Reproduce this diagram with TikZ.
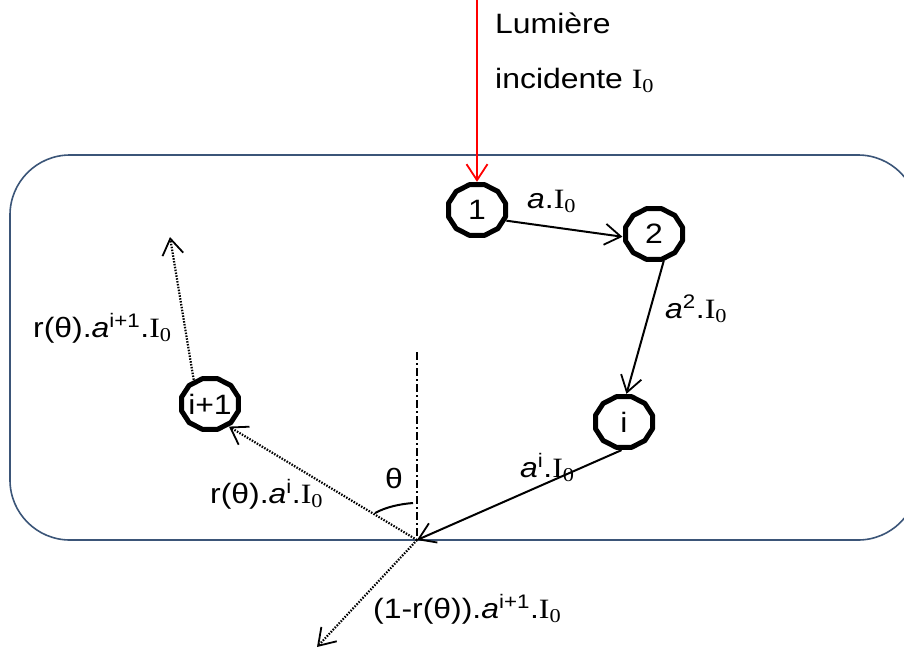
\documentclass[tikz,border=0pt]{standalone}
\usepackage{fontspec}
\setmainfont{Liberation Sans}
\newfontfamily\tms{Liberation Serif}
\usetikzlibrary{arrows.meta,shapes.geometric,calc}
\definecolor{boxblue}{RGB}{59,85,120}
\newcommand\sx[1]{\scalebox{1.14}[1]{#1}}
\newcommand\Iz{{\tms I\textsubscript{0}}}
\newcommand\va{\textit{a}}
\newcommand\drawpoly[1]{\draw[polyline] ($(#1)+(15:29.5 and 26.2)$) \foreach \a in {45,75,...,345}{ -- ($(#1)+(\a:29.5 and 26.2)$)} -- cycle;}
\tikzset{
  lbl/.style={inner sep=0pt, anchor=base west},
  cell/.style={ellipse, minimum width=63pt, minimum height=56pt, inner sep=0pt},
  polyline/.style={line width=5pt, line join=round},
  tip/.style={-{Straight Barb[length=16pt,width=21pt,line width=1.8pt]}},
  solidarrow/.style={tip, line width=2pt},
  dotarrow/.style={tip, line width=2.2pt, dash pattern=on 1.5pt off 1.4pt},
  redarrow/.style={tip, line width=1.8pt, red},
  dashdot/.style={line width=2.4pt, dash pattern=on 8pt off 3pt on 2pt off 3pt},
}
\begin{document}
\begin{tikzpicture}[x=1pt,y=-1pt,font=\fontsize{28}{33}\selectfont]
\useasboundingbox (0,0) rectangle (904,648);
\begin{scope}
\clip (0,0) rectangle (904,648);
\draw[boxblue, line width=1.6pt, rounded corners=60pt] (10,155) rectangle (918,540);
\end{scope}

% cells
\node[cell] (n1) at (477,210) {\sx{1}};
\node[cell] (n2) at (654,234) {\sx{2}};
\node[cell] (ni) at (624,422) {\sx{i}};
\node[cell] (ni1) at (210,404) {\sx{i+1}};
\drawpoly{n1}
\drawpoly{n2}
\drawpoly{ni}
\drawpoly{ni1}

% points
\coordinate (top) at (477,0);
\coordinate (P) at (417,540);
\coordinate (nt) at (417,352);
\coordinate (up) at (170,237);
\coordinate (dn) at (317,647);
\coordinate (arcA) at (413,503);
\coordinate (arcB) at (375,513);

% connectors
\draw[redarrow] (top) -- (n1);
\draw[solidarrow] (n1.-20) -- (n2.185);
\draw[solidarrow] (n2.-70) -- (ni.85);
\draw[solidarrow] (ni.-95) -- (P);
\draw[dotarrow] (P) -- (ni1.-50);
\draw[dotarrow] (ni1.124) -- (up);
\draw[dotarrow] (P) -- (dn);
\draw[dashdot] (nt) -- (P);
\draw[line width=2pt] (arcA) .. controls (400,504) and (386,507) .. (arcB);

% labels
\node[lbl] (lum) at (495,33) {\sx{Lumière}};
\node[lbl] (inc) at (495,88) {\sx{incidente \Iz}};
\node[lbl] (l1) at (527,208) {\sx{\va.\Iz}};
\node[lbl] (l2) at (665,318) {\sx{\va\textsuperscript{2}.\Iz}};
\node[lbl] (l3) at (33,337) {\sx{r(θ).\va\textsuperscript{i+1}.\Iz}};
\node[lbl] (th) at (385,488) {\sx{θ}};
\node[lbl] (l4) at (520,477) {\sx{\va\textsuperscript{i}.\Iz}};
\node[lbl] (l5) at (210,503) {\sx{r(θ).\va\textsuperscript{i}.\Iz}};
\node[lbl] (l6) at (373,618) {\sx{(1-r(θ)).\va\textsuperscript{i+1}.\Iz}};
\end{tikzpicture}
\end{document}
